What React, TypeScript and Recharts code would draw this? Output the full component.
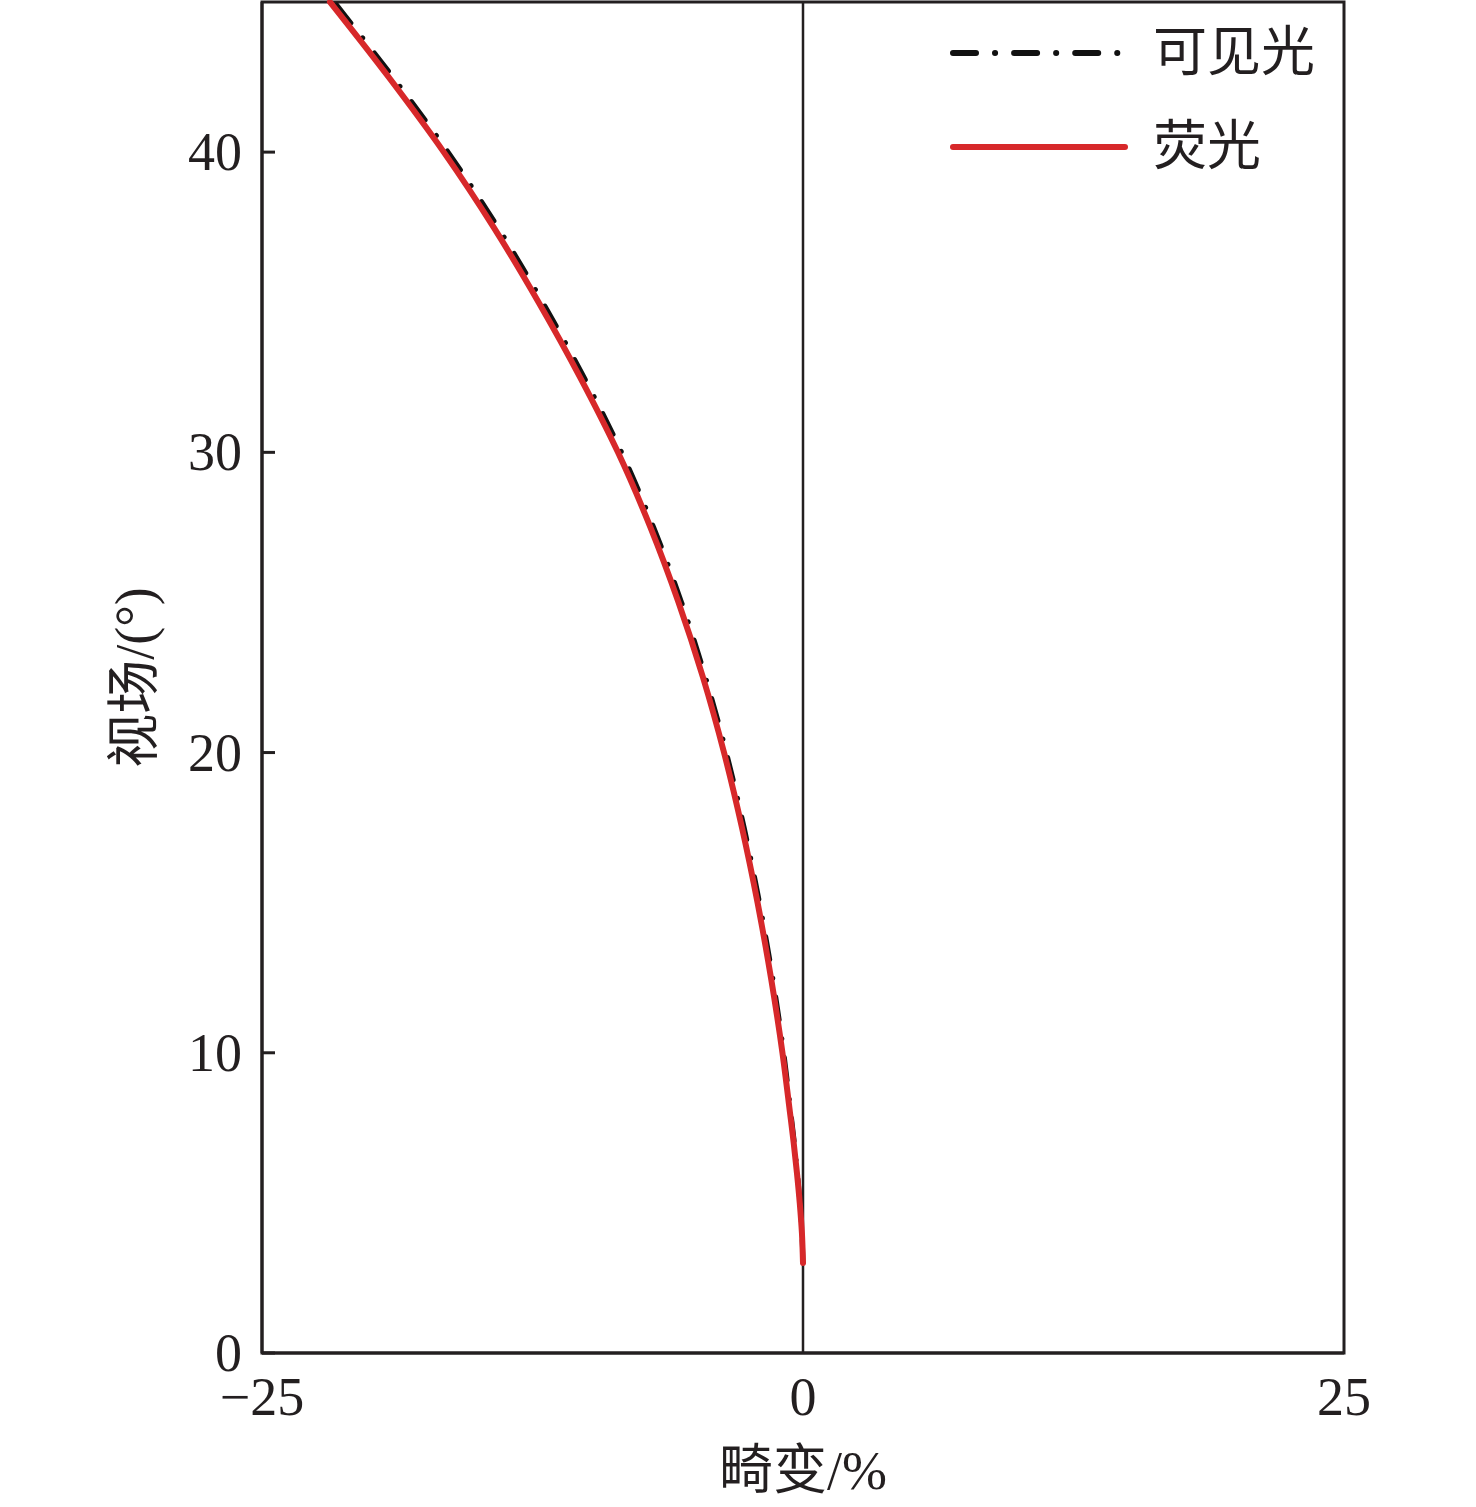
import React from 'react';
import {
  LineChart,
  Line,
  XAxis,
  YAxis,
  ReferenceLine,
  ReferenceArea,
} from 'recharts';

// field of view (deg)
const fieldAngles = [3, 4, 5, 6, 7, 8, 10, 12.5, 15, 17.5, 20, 22.5, 25, 27.5, 30, 32.5, 35, 37.5, 40, 42.5, 45];
// distortion (%) for visible light
const visibleDistortion = [0, -0.05, -0.14, -0.26, -0.4, -0.56, -0.89, -1.4, -2.01, -2.72, -3.54, -4.5, -5.61, -6.9, -8.38, -10.12, -12.03, -14.1, -16.4, -18.95, -21.66];
// distortion (%) for fluorescence
const fluorDistortion = [0, -0.05, -0.15, -0.28, -0.43, -0.6, -0.95, -1.48, -2.1, -2.82, -3.65, -4.62, -5.75, -7.05, -8.55, -10.3, -12.22, -14.3, -16.6, -19.15, -21.86];

const xTicks = [-25, 0, 25];
const yTicks = [0, 10, 20, 30, 40];

const series = [
  { key: 'visible', name: '可见光', color: '#111111', dash: '23 19 0.1 19' },
  { key: 'fluor', name: '荧光', color: '#d7282a', dash: undefined },
];

const data = fieldAngles.map((f, i) => ({
  field: f,
  visible: visibleDistortion[i],
  fluor: fluorDistortion[i],
}));

const FONT = "'Liberation Serif', 'Noto Sans CJK SC', serif";
const AXIS = '#231f20';

const YTick = (props: any) => {
  const { x, y, payload } = props;
  return (
    <g>
      <line x1={x} x2={x + 13} y1={y} y2={y} stroke={AXIS} strokeWidth={3} />
      <text x={x - 20} y={y + 18} textAnchor="end" fontSize={54} fontFamily={FONT} fill="#231f20">
        {payload.value}
      </text>
    </g>
  );
};

const XTick = (props: any) => {
  const { x, y, payload } = props;
  const label = payload.value < 0 ? `\u2212${Math.abs(payload.value)}` : `${payload.value}`;
  return (
    <text x={x} y={y + 62} textAnchor="middle" fontSize={54} fontFamily={FONT} fill="#231f20">
      {label}
    </text>
  );
};

const YLabel = (props: any) => {
  const { viewBox } = props;
  const cx = viewBox.x + 135;
  const cy = viewBox.y + viewBox.height / 2;
  return (
    <text
      x={cx}
      y={cy}
      transform={`rotate(-90, ${cx}, ${cy})`}
      textAnchor="middle"
      dominantBaseline="central"
      fontSize={54}
      fontFamily={FONT}
      fill="#231f20"
    >
      视场/(°)
    </text>
  );
};

const LegendBox = () => (
  <svg width={420} height={190} style={{ position: 'absolute', left: 937, top: 0 }}>
    {series.map((s, i) => (
      <g key={s.key}>
        <line
          x1={16}
          x2={188}
          y1={53 + i * 94}
          y2={53 + i * 94}
          stroke={s.color}
          strokeWidth={6}
          strokeDasharray={s.dash}
          strokeLinecap="round"
        />
        <text x={216} y={71 + i * 94} fontSize={54} fontFamily={FONT} fill="#231f20">
          {s.name}
        </text>
      </g>
    ))}
  </svg>
);

export default function App() {
  return (
    <div style={{ position: 'absolute', left: 0, top: 0, width: 1476, height: 1507, background: '#fff' }}>
      <LineChart
        width={1476}
        height={1507}
        data={data}
        layout="vertical"
        margin={{ top: 2, right: 132, bottom: 0, left: 0 }}
      >
        <XAxis
          type="number"
          domain={[-25, 25]}
          ticks={xTicks}
          height={154}
          tickSize={0}
          tickMargin={0}
          tickLine={false}
          axisLine={{ stroke: AXIS, strokeWidth: 3 }}
          tick={<XTick />}
          label={{ value: '畸变/%', position: 'insideBottom', offset: 18, fontSize: 54, fontFamily: FONT, fill: '#231f20' }}
        />
        <YAxis
          type="number"
          dataKey="field"
          domain={[0, 45]}
          ticks={yTicks}
          reversed
          width={262}
          tickSize={0}
          tickMargin={0}
          tickLine={false}
          axisLine={{ stroke: AXIS, strokeWidth: 3 }}
          tick={<YTick />}
          label={<YLabel />}
        />
        <ReferenceArea x1={-25} x2={25} y1={0} y2={45} fill="none" stroke={AXIS} strokeWidth={3} ifOverflow="visible" />
        <ReferenceLine x={0} stroke={AXIS} strokeWidth={2.5} />
        {series.map(s => (
          <Line
            key={s.key}
            dataKey={s.key}
            name={s.name}
            type="monotone"
            stroke={s.color}
            strokeWidth={s.key === 'fluor' ? 6 : 5}
            strokeDasharray={s.dash}
            strokeLinecap="round"
            dot={false}
            activeDot={false}
            isAnimationActive={false}
          />
        ))}
      </LineChart>
      <LegendBox />
    </div>
  );
}
